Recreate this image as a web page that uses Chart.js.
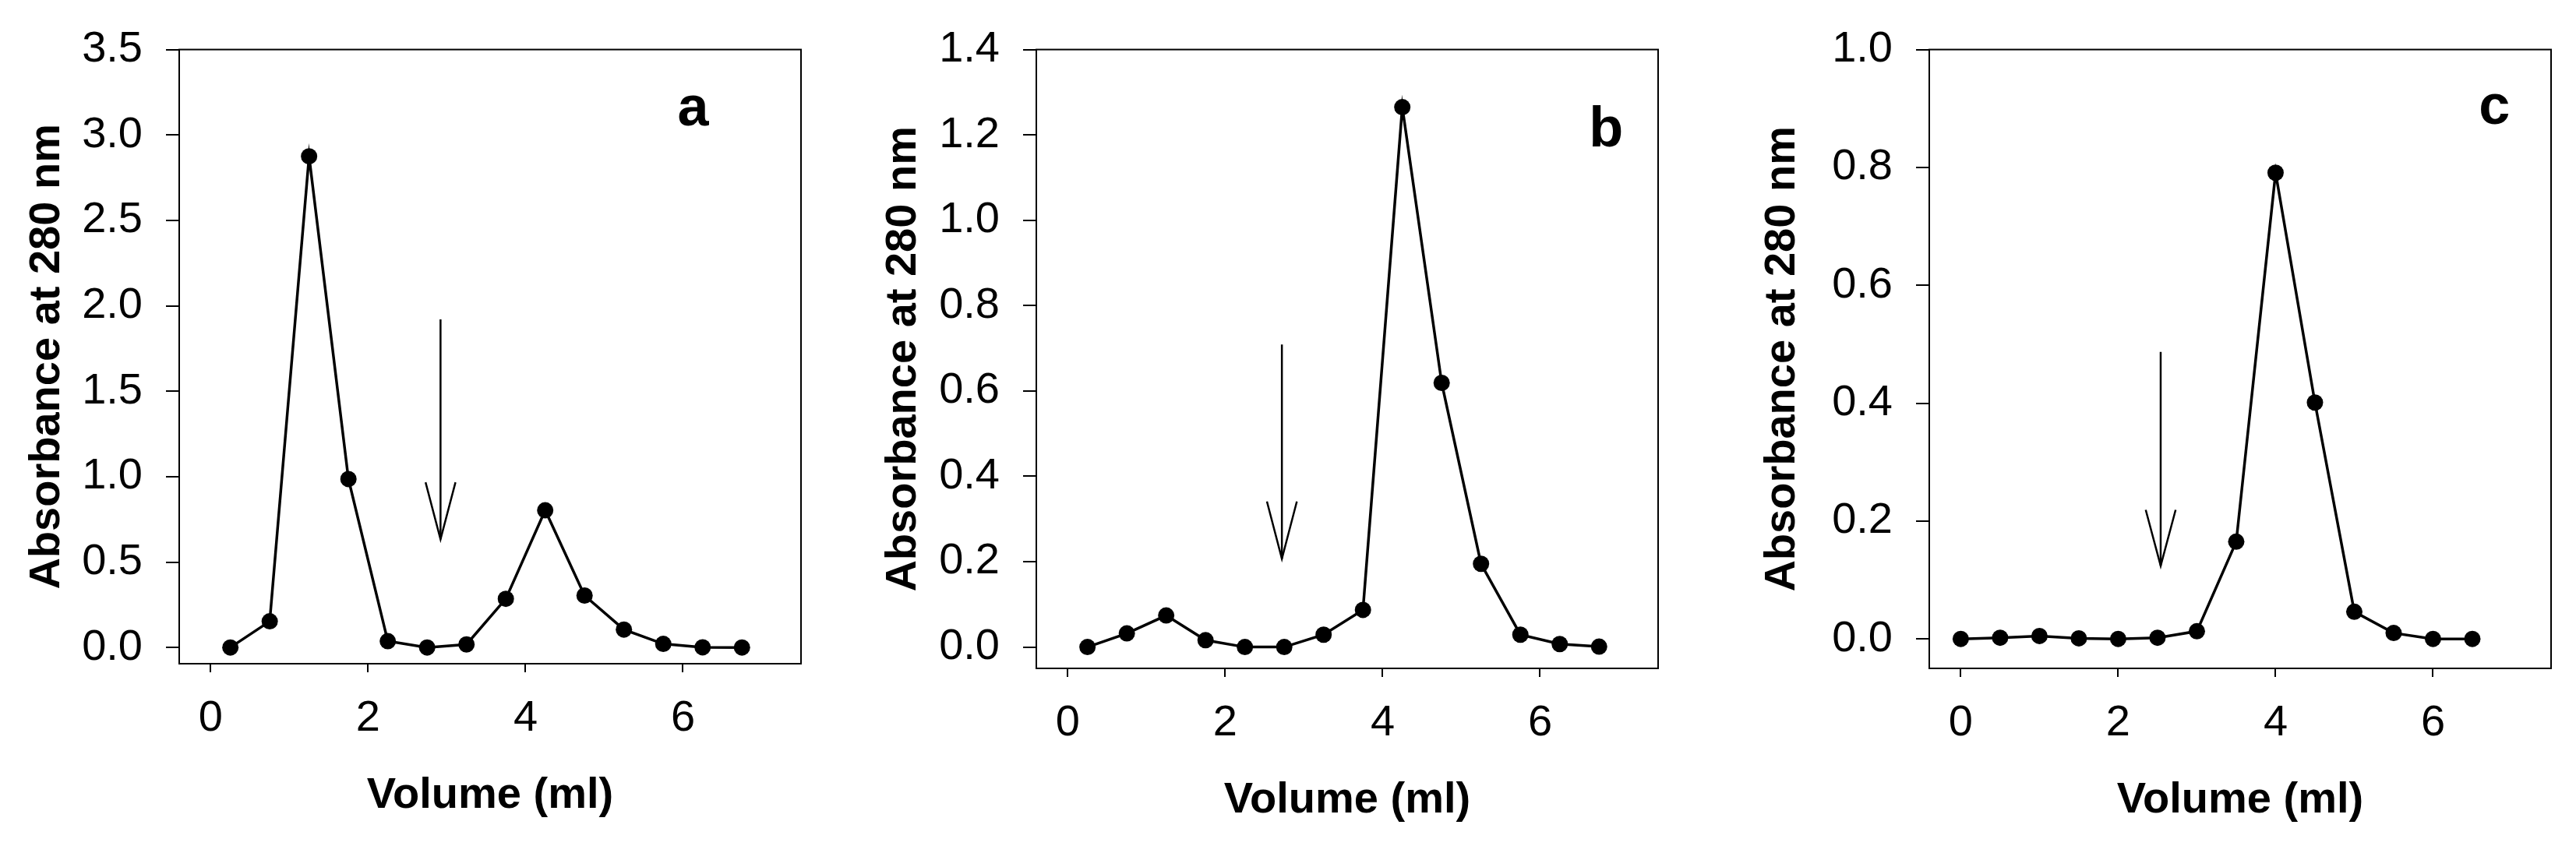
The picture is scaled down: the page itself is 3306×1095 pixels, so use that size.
<!DOCTYPE html>
<html>
<head>
<meta charset="utf-8">
<script src="https://cdn.jsdelivr.net/npm/chart.js@4.4.0/dist/chart.umd.min.js"></script>
<style>
html,body{margin:0;padding:0;background:#fff;width:3306px;height:1095px;overflow:hidden}
canvas{position:absolute;top:0}
</style>
</head>
<body>
<canvas id="ca" width="1100" height="1095" style="left:0px"></canvas>
<canvas id="cb" width="1100" height="1095" style="left:1100px"></canvas>
<canvas id="cc" width="1106" height="1095" style="left:2200px"></canvas>
<script>
// ---- data ----
const volumeA = [0.25, 0.75, 1.25, 1.75, 2.25, 2.75, 3.25, 3.75, 4.25, 4.75, 5.25, 5.75, 6.25, 6.75];
const absorbanceA = [0.0, 0.153, 2.875, 0.986, 0.037, 0.0, 0.018, 0.285, 0.803, 0.304, 0.105, 0.021, 0.001, 0.0];

const volumeB = [0.25, 0.75, 1.25, 1.75, 2.25, 2.75, 3.25, 3.75, 4.25, 4.75, 5.25, 5.75, 6.25, 6.75];
const absorbanceB = [0.0, 0.032, 0.074, 0.016, 0.0, 0.0, 0.029, 0.087, 1.265, 0.619, 0.195, 0.029, 0.007, 0.001];

const volumeC = [0.0, 0.5, 1.0, 1.5, 2.0, 2.5, 3.0, 3.5, 4.0, 4.5, 5.0, 5.5, 6.0, 6.5];
const absorbanceC = [0.0, 0.002, 0.005, 0.001, 0.0, 0.002, 0.013, 0.165, 0.791, 0.401, 0.046, 0.010, 0.0, 0.0];

const xTicks = [0, 2, 4, 6];
const yTicksA = [0.0, 0.5, 1.0, 1.5, 2.0, 2.5, 3.0, 3.5];
const yTicksB = [0.0, 0.2, 0.4, 0.6, 0.8, 1.0, 1.2, 1.4];
const yTicksC = [0.0, 0.2, 0.4, 0.6, 0.8, 1.0];

// arrows (volume, top of shaft, tip, arrowhead wing level) per panel a, b, c
const arrowVolume = [2.92, 2.72, 2.54];
const arrowTop = [1.92, 0.709, 0.487];
const arrowTip = [0.633, 0.207, 0.124];
const arrowWing = [0.967, 0.341, 0.219];

// panel letters and their anchor (volume, absorbance of baseline)
const panelLetters = ['a', 'b', 'c'];
const letterVolume = [6.13, 6.84, 6.78];
const letterAbs = [3.058, 1.173, 0.874];

const xTitle = 'Volume (ml)';
const yTitle = 'Absorbance at 280 nm';

// ---- drawing ----
Chart.defaults.font.family = "'Liberation Sans', Arial, sans-serif";
Chart.defaults.color = '#000';

const ARROW_HALF = 0.19; // half width of arrowhead in volume units

const framePlugin = {
  id: 'frame',
  beforeDatasetsDraw(chart) {
    const {ctx, chartArea: a} = chart;
    ctx.save();
    ctx.strokeStyle = '#000';
    ctx.lineWidth = 2;
    ctx.strokeRect(a.left, a.top, a.right - a.left, a.bottom - a.top);
    ctx.restore();
  }
};

const letterPlugin = {
  id: 'panelLetter',
  afterDraw(chart, args, opts) {
    const {ctx, scales} = chart;
    ctx.save();
    ctx.font = "bold 72px 'Liberation Sans', Arial, sans-serif";
    ctx.fillStyle = '#000';
    ctx.textAlign = 'center';
    ctx.textBaseline = 'alphabetic';
    ctx.fillText(opts.text, scales.x.getPixelForValue(opts.x), scales.y.getPixelForValue(opts.y));
    ctx.restore();
  }
};

function makePanel(id, i, xs, ys, yTicks, yMin, yMax, L) {
  const pts = xs.map((v, k) => ({x: v, y: ys[k]}));
  const ax = arrowVolume[i];
  return new Chart(document.getElementById(id), {
    type: 'line',
    data: {
      datasets: [
        {
          data: pts, borderColor: '#000', borderWidth: 3.5, tension: 0,
          pointRadius: 10.5, pointHoverRadius: 10.5, pointBackgroundColor: '#000', pointBorderWidth: 0
        },
        {
          data: [{x: ax, y: arrowTop[i]}, {x: ax, y: arrowTip[i]}],
          borderColor: '#000', borderWidth: 2.5, pointRadius: 0
        },
        {
          data: [{x: ax - ARROW_HALF, y: arrowWing[i]}, {x: ax, y: arrowTip[i]}, {x: ax + ARROW_HALF, y: arrowWing[i]}],
          borderColor: '#000', borderWidth: 2.5, pointRadius: 0, borderJoinStyle: 'miter'
        }
      ]
    },
    options: {
      responsive: false,
      animation: false,
      devicePixelRatio: 1,
      events: [],
      layout: {padding: L.pad},
      plugins: {
        legend: {display: false},
        tooltip: {enabled: false},
        panelLetter: {text: panelLetters[i], x: letterVolume[i], y: letterAbs[i]}
      },
      scales: {
        x: {
          type: 'linear', min: -0.4, max: 7.5,
          afterBuildTicks: s => { s.ticks = xTicks.map(v => ({value: v})); },
          afterFit: s => { s.height = L.xh; },
          border: {display: false},
          grid: {drawOnChartArea: false, drawTicks: true, tickLength: 11, tickWidth: 2, tickColor: '#000', color: '#000', lineWidth: 2},
          ticks: {color: '#000', font: {size: 56}, padding: 26, maxRotation: 0, autoSkip: false, callback: v => String(v)},
          title: {display: true, text: xTitle, color: '#000', font: {size: 56, weight: 'bold'}, padding: {top: 0, bottom: L.xtp}}
        },
        y: {
          type: 'linear', min: yMin, max: yMax,
          afterBuildTicks: s => { s.ticks = yTicks.map(v => ({value: v})); },
          afterFit: s => { s.width = L.yw; },
          border: {display: false},
          grid: {drawOnChartArea: false, drawTicks: true, tickLength: 17, tickWidth: 2, tickColor: '#000', color: '#000', lineWidth: 2},
          ticks: {color: '#000', font: {size: 56}, padding: 30, autoSkip: false, callback: v => Number(v).toFixed(1)},
          title: {display: true, text: yTitle, color: '#000', font: {size: 56, weight: 'bold'}, padding: {top: L.ytp, bottom: 0}}
        }
      }
    },
    plugins: [framePlugin, letterPlugin]
  });
}

makePanel('ca', 0, volumeA, absorbanceA, yTicksA, -0.095, 3.5,
  {pad: {top: 58, right: 72, left: 0, bottom: 0}, yw: 230, xh: 243, ytp: 27, xtp: 40});
makePanel('cb', 1, volumeB, absorbanceB, yTicksB, -0.05, 1.4,
  {pad: {top: 63, right: 72, left: 0, bottom: 0}, yw: 230, xh: 237, ytp: 26, xtp: 34});
makePanel('cc', 2, volumeC, absorbanceC, yTicksC, -0.05, 1.0,
  {pad: {top: 63, right: 32, left: 0, bottom: 0}, yw: 276, xh: 237, ytp: 54, xtp: 34});
</script>
</body>
</html>
